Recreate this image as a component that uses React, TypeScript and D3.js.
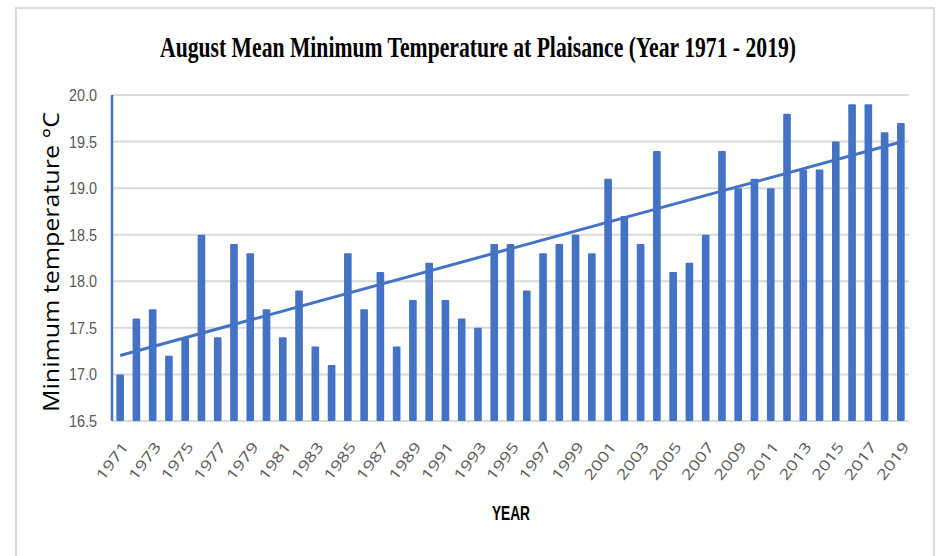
import React from "react";
import * as d3 from "d3";

const years: number[] = [
  1971, 1972, 1973, 1974, 1975, 1976, 1977, 1978, 1979, 1980,
  1981, 1982, 1983, 1984, 1985, 1986, 1987, 1988, 1989, 1990,
  1991, 1992, 1993, 1994, 1995, 1996, 1997, 1998, 1999, 2000,
  2001, 2002, 2003, 2004, 2005, 2006, 2007, 2008, 2009, 2010,
  2011, 2012, 2013, 2014, 2015, 2016, 2017, 2018, 2019,
];
const minTemp: number[] = [
  17.0, 17.6, 17.7, 17.2, 17.4, 18.5, 17.4, 18.4, 18.3, 17.7,
  17.4, 17.9, 17.3, 17.1, 18.3, 17.7, 18.1, 17.3, 17.8, 18.2,
  17.8, 17.6, 17.5, 18.4, 18.4, 17.9, 18.3, 18.4, 18.5, 18.3,
  19.1, 18.7, 18.4, 19.4, 18.1, 18.2, 18.5, 19.4, 19.0, 19.1,
  19.0, 19.8, 19.2, 19.2, 19.5, 19.9, 19.9, 19.6, 19.7,
];
const yTicks: number[] = [16.5, 17.0, 17.5, 18.0, 18.5, 19.0, 19.5, 20.0];
const xTickYears: number[] = years.filter((y) => (y - 1971) % 2 === 0);

const TITLE = "August Mean Minimum Temperature at Plaisance (Year 1971 - 2019)";
const Y_LABEL = "Minimum temperature °C";
const X_LABEL = "YEAR";

const BLUE = "#4472C4";
const GRID = "#d9d9d9";
const TICK = "#595959";

export default function App() {
  const W = 937;
  const H = 556;
  const left = 112;
  const right = 909;
  const top = 95;
  const bottom = 421;

  const x = d3
    .scaleBand<number>()
    .domain(years)
    .range([left, right])
    .paddingInner(0.53)
    .paddingOuter(0.265);
  const y = d3.scaleLinear().domain([16.5, 20]).range([bottom, top]);

  // linear trendline (least squares, as in the spreadsheet trendline)
  const n = years.length;
  const idx = years.map((_, i) => i + 1);
  const mx = d3.mean(idx) as number;
  const my = d3.mean(minTemp) as number;
  let sxy = 0;
  let sxx = 0;
  idx.forEach((xi, i) => {
    sxy += (xi - mx) * (minTemp[i] - my);
    sxx += (xi - mx) * (xi - mx);
  });
  const slope = sxy / sxx;
  const intercept = my - slope * mx;
  const trendPts: [number, number][] = [
    [x(years[0])! + x.bandwidth() / 2, y(intercept + slope * 1)],
    [x(years[n - 1])! + x.bandwidth() / 2, y(intercept + slope * n)],
  ];
  const line = d3.line();

  return (
    <div style={{ position: "absolute", left: 0, top: 0, width: W, height: H, background: "#fff" }}>
      <svg width={W} height={H} style={{ display: "block" }}>
        <rect x={0} y={0} width={W} height={H} fill="#fff" />
        {/* chart frame */}
        <path d={`M16,${H + 2} V8 H934 V${H + 2}`} fill="none" stroke={GRID} strokeWidth={2} />

        {/* title */}
        <text
          x={478}
          y={57}
          textAnchor="middle"
          fontFamily="'Liberation Serif', 'Times New Roman', serif"
          fontWeight="bold"
          fontSize={30}
          textLength={636}
          lengthAdjust="spacingAndGlyphs"
          fill="#000"
        >
          {TITLE}
        </text>

        {/* gridlines */}
        {yTicks.map((t) => (
          <line key={t} x1={left} x2={right} y1={y(t)} y2={y(t)} stroke={GRID} strokeWidth={2} />
        ))}

        {/* y tick labels */}
        {yTicks.map((t) => (
          <text
            key={"yl" + t}
            x={97}
            y={y(t) + 6}
            textAnchor="end"
            fontFamily="'Liberation Sans', Arial, sans-serif"
            fontSize={16}
            textLength={28}
            lengthAdjust="spacingAndGlyphs"
            fill={TICK}
          >
            {t.toFixed(1)}
          </text>
        ))}

        {/* bars */}
        {years.map((yr, i) => (
          <rect
            key={yr}
            x={x(yr)}
            y={y(minTemp[i])}
            width={x.bandwidth()}
            height={bottom - y(minTemp[i])}
            fill={BLUE}
            rx={1}
          />
        ))}

        {/* axes lines */}
        <line x1={left} x2={left} y1={top} y2={bottom} stroke={BLUE} strokeWidth={2.5} />

        {/* trendline */}
        <path d={line(trendPts) || ""} fill="none" stroke={BLUE} strokeWidth={3} />

        {/* x tick labels */}
        {xTickYears.map((yr) => {
          const cx = x(yr)! + x.bandwidth() / 2 + 9;
          const cy = 447;
          return (
            <text
              key={"xl" + yr}
              transform={`translate(${cx},${cy}) rotate(-53)`}
              textAnchor="end"
              fontFamily="'Open Sans', 'Liberation Sans', sans-serif"
              fontSize={14.5}
              textLength={43}
              lengthAdjust="spacingAndGlyphs"
              fill={TICK}
            >
              {yr}
            </text>
          );
        })}

        {/* axis titles */}
        <text
          x={511}
          y={520}
          textAnchor="middle"
          fontFamily="'Liberation Sans', Arial, sans-serif"
          fontWeight="bold"
          fontSize={21}
          textLength={38}
          lengthAdjust="spacingAndGlyphs"
          fill="#000"
        >
          {X_LABEL}
        </text>
        <text
          transform={`translate(59,262) rotate(-90)`}
          textAnchor="middle"
          fontFamily="'Open Sans', 'Liberation Sans', sans-serif"
          fontSize={21}
          textLength={300}
          lengthAdjust="spacingAndGlyphs"
          fill="#000"
        >
          {Y_LABEL}
        </text>
      </svg>
    </div>
  );
}
